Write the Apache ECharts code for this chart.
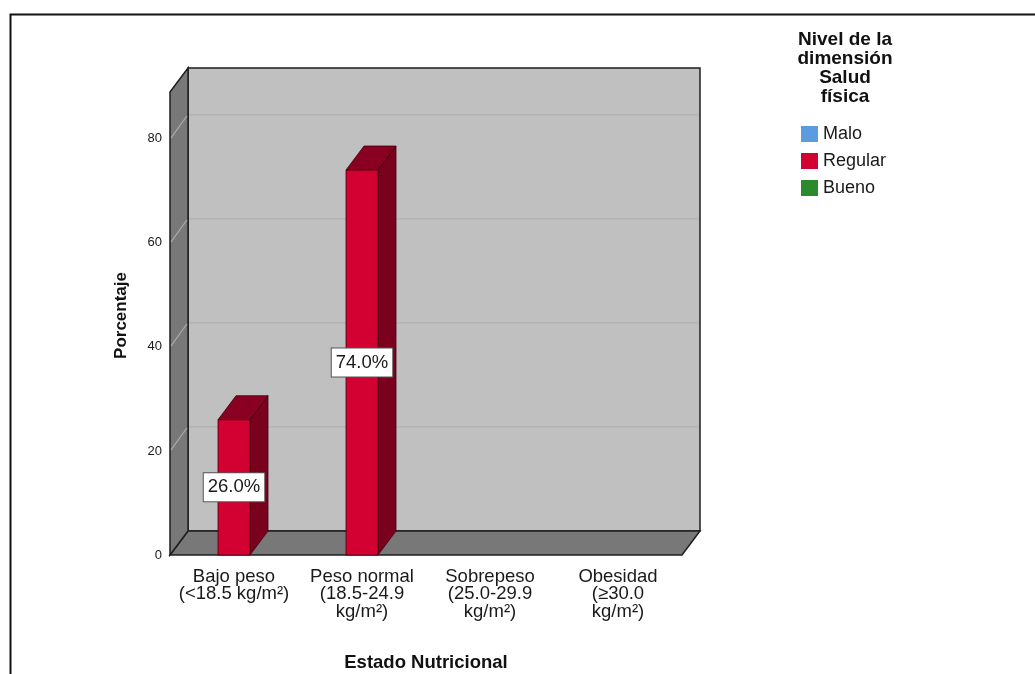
<!DOCTYPE html>
<html>
<head>
<meta charset="utf-8">
<script src="https://cdn.jsdelivr.net/npm/echarts@6/dist/echarts.min.js"></script>
<style>
  html, body { margin: 0; padding: 0; background: #ffffff; }
  #chart { width: 1035px; height: 674px; }
</style>
</head>
<body>
<div id="chart"></div>
<script>
// Categories of nutritional status (x axis)
const categories = [
  'Bajo peso\n(<18.5 kg/m²)',
  'Peso normal\n(18.5-24.9\nkg/m²)',
  'Sobrepeso\n(25.0-29.9\nkg/m²)',
  'Obesidad\n(≥30.0\nkg/m²)'
];
// Level of the physical health dimension (legend)
const seriesNames = ['Malo', 'Regular', 'Bueno'];
const maloValues = [0, 0, 0, 0];
const regularValues = [26.0, 74.0, 0, 0];
const buenoValues = [0, 0, 0, 0];
const yTicks = [0, 20, 40, 60, 80];

const FONT = '"Liberation Sans", Arial, sans-serif';
// depth offset of the 3D box
const DX = 18, DY = -24;

const colors = {
  Malo:    { front: '#5b9be0', top: '#2f5f94', side: '#285282' },
  Regular: { front: '#d30032', top: '#8a0022', side: '#7a001d' },
  Bueno:   { front: '#2b8a2d', top: '#175418', side: '#134814' }
};

// back wall, left wall, floor and grid lines
function renderFrame(params, api) {
  const cs = params.coordSys;
  const x0 = cs.x, x1 = cs.x + cs.width;
  const yt = cs.y;
  const yb = api.coord([0, 0])[1];
  const children = [];
  children.push({ type: 'rect',
    shape: { x: x0 + DX, y: yt + DY, width: cs.width, height: yb - yt },
    style: { fill: '#c0c0c0', stroke: '#1e1e1e', lineWidth: 1.5 } });
  children.push({ type: 'polygon',
    shape: { points: [[x0, yb], [x0 + DX, yb + DY], [x1 + DX, yb + DY], [x1, yb]] },
    style: { fill: '#787878', stroke: '#1e1e1e', lineWidth: 1.5 } });
  children.push({ type: 'polygon',
    shape: { points: [[x0, yt], [x0 + DX, yt + DY], [x0 + DX, yb + DY], [x0, yb]] },
    style: { fill: '#787878', stroke: '#1e1e1e', lineWidth: 1.5 } });
  yTicks.forEach(function (v) {
    if (v === 0) return;
    const y = api.coord([0, v])[1];
    children.push({ type: 'line',
      shape: { x1: x0 + DX + 1, y1: y + DY, x2: x1 + DX - 1, y2: y + DY },
      style: { stroke: '#b0b0b0', lineWidth: 1.2 } });
    children.push({ type: 'line',
      shape: { x1: x0 + 1, y1: y - 1, x2: x0 + DX - 1, y2: y + DY + 1 },
      style: { stroke: '#a8a8a8', lineWidth: 1.2 } });
  });
  return { type: 'group', children: children };
}

// one 3D bar per data item; slot = position within the category band
function makeBarRenderer(name, slot) {
  const c = colors[name];
  return function (params, api) {
    const cat = api.value(0);
    const v = api.value(1);
    if (!v) return null;
    const base = api.coord([cat, 0]);
    const top = api.coord([cat, v]);
    const band = api.size([1, 0])[0];
    const w = band / 4;
    const cx = base[0] + slot * w;
    const l = cx - w / 2, r = cx + w / 2;
    const yt = top[1], yb = base[1];
    const edge = { stroke: '#3c000c', lineWidth: 0.8 };
    const mid = api.coord([cat, v / 2])[1];
    return { type: 'group', children: [
      { type: 'polygon',
        shape: { points: [[r, yt], [r + DX, yt + DY], [r + DX, yb + DY], [r, yb]] },
        style: Object.assign({ fill: c.side }, edge) },
      { type: 'polygon',
        shape: { points: [[l, yt], [l + DX, yt + DY], [r + DX, yt + DY], [r, yt]] },
        style: Object.assign({ fill: c.top }, edge) },
      { type: 'rect',
        shape: { x: l, y: yt, width: w, height: yb - yt },
        style: Object.assign({ fill: c.front }, edge) },
      { type: 'text',
        style: {
          text: v.toFixed(1) + '%', x: cx, y: mid,
          align: 'center', verticalAlign: 'middle',
          fontSize: 18.5, fontFamily: FONT, fill: '#1a1a1a',
          backgroundColor: '#ffffff', borderColor: '#555555', borderWidth: 1,
          padding: [5, 4, 4, 4]
        } }
    ] };
  };
}

function barSeries(name, values, slot) {
  return {
    type: 'custom', name: name, z: 3,
    coordinateSystem: 'cartesian2d',
    itemStyle: { color: colors[name].front },
    renderItem: makeBarRenderer(name, slot),
    data: values.map(function (v, i) { return [i, v]; })
  };
}

const chart = echarts.init(document.getElementById('chart'), null, { renderer: 'canvas' });
chart.setOption({
  animation: false,
  backgroundColor: '#ffffff',
  textStyle: { fontFamily: FONT },
  grid: { left: 170, right: 353, top: 92, bottom: 119, outerBoundsMode: 'none', containLabel: false },
  legend: {
    data: seriesNames,
    orient: 'vertical', left: 801, top: 125, padding: 0,
    icon: 'rect', itemWidth: 17, itemHeight: 16, itemGap: 9, itemTextGap: 4,
    textStyle: { fontSize: 18, fontFamily: FONT, color: '#1a1a1a' },
    selectedMode: false
  },
  xAxis: {
    type: 'category', data: categories,
    axisLine: { show: false }, axisTick: { show: false },
    axisLabel: { interval: 0, fontSize: 18.5, lineHeight: 17.5, color: '#1a1a1a', margin: 13 },
    name: 'Estado Nutricional', nameLocation: 'middle', nameGap: 98,
    nameTextStyle: { fontSize: 18.5, fontWeight: 'bold', color: '#111' }
  },
  yAxis: {
    type: 'value', min: 0, max: 89, interval: 20,
    axisLine: { show: false }, axisTick: { show: false }, splitLine: { show: false },
    axisLabel: { showMaxLabel: false, fontSize: 13, color: '#1a1a1a', margin: 8,
      padding: [6, 0, 0, 0],
      formatter: function (v) { return yTicks.indexOf(v) >= 0 ? String(v) : ''; } },
    name: 'Porcentaje', nameLocation: 'middle', nameGap: 40, nameRotate: 90,
    nameTextStyle: { fontSize: 17, fontWeight: 'bold', color: '#111', padding: [0, 0, 0, 16] }
  },
  graphic: [
    { type: 'rect', left: 8, top: 12, silent: true,
      shape: { x: 0, y: 0, width: 1100, height: 700 },
      style: { fill: 'none', stroke: '#111', lineWidth: 2 } },
    { type: 'text', x: 845, y: 30, silent: true,
      style: { text: 'Nivel de la\ndimensión\nSalud\nfísica', align: 'center', verticalAlign: 'top',
        fontSize: 19, lineHeight: 19, fontWeight: 'bold', fontFamily: FONT, fill: '#111' } }
  ],
  series: [
    { type: 'custom', name: 'frame', z: 1, silent: true,
      coordinateSystem: 'cartesian2d', renderItem: renderFrame, data: [[0, 0]] },
    barSeries('Malo', maloValues, -1),
    barSeries('Regular', regularValues, 0),
    barSeries('Bueno', buenoValues, 1)
  ]
});
</script>
</body>
</html>
